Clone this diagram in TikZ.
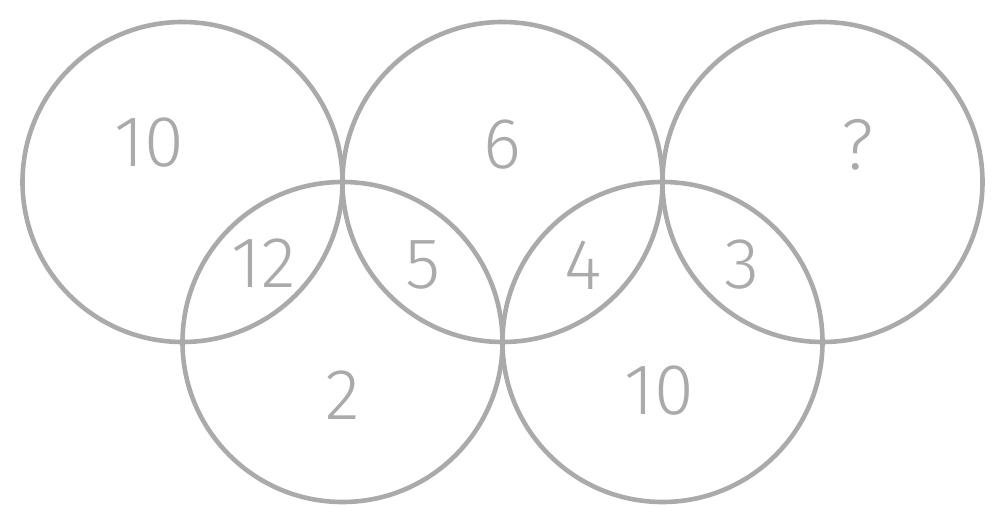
\documentclass[tikz,border=0pt]{standalone}
\usepackage{fontspec}
\setmainfont{Fira Sans}[UprightFont=* Light]
\definecolor{ring}{HTML}{AAAAAA}
\begin{document}
\begin{tikzpicture}[x=1pt,y=-1pt,
  ringc/.style={draw=ring,line width=4.6pt,circle,minimum size=320pt,inner sep=0pt},
  num/.style={text=ring,font=\fontsize{72}{72}\selectfont,inner sep=0pt}]
\useasboundingbox (0,0) rectangle (1006,526);
\node[ringc] (c1) at (182.5,182) {};
\node[ringc] (c2) at (502.5,182) {};
\node[ringc] (c3) at (822.5,182) {};
\node[ringc] (c4) at (342.5,342) {};
\node[ringc] (c5) at (662.5,342) {};
\node[num] (t1) at (149,143) {10};
\node[num] (t2) at (502,145) {6};
\node[num] (t3) at (858,145) {?};
\node[num] (t4) at (264,263) {12};
\node[num] (t5) at (423,265) {5};
\node[num] (t6) at (583,265) {4};
\node[num] (t7) at (742,265) {3};
\node[num] (t8) at (343,395) {2};
\node[num] (t9) at (659,391) {10};
\end{tikzpicture}
\end{document}
